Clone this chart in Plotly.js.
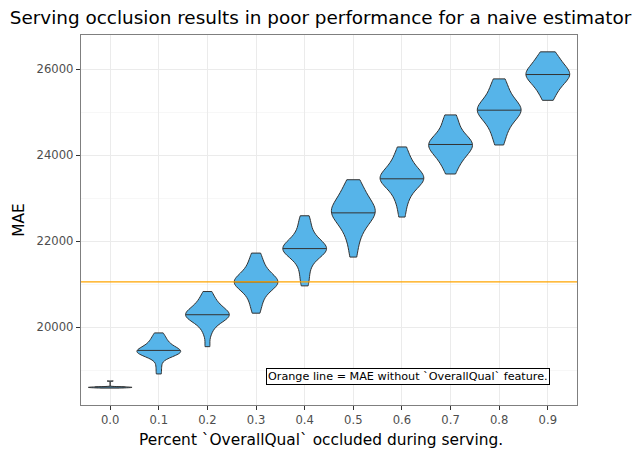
<!DOCTYPE html>
<html>
<head>
<meta charset="utf-8">
<script src="https://cdn.plot.ly/plotly-3.0.1.min.js"></script>
<style>
html,body{margin:0;padding:0;background:#fff;}
#chart{width:641px;height:457px;}
#chart path.mean, #chart path.meanline{stroke-dasharray:none !important;}
</style>
</head>
<body>
<div id="chart"></div>
<script>
// Categories (fraction of OverallQual occluded)
const categories = ['0.0','0.1','0.2','0.3','0.4','0.5','0.6','0.7','0.8','0.9'];

// MAE samples per category
const mae00 = [18590,18595,18598,18601,18604,18606,18608,18610,18612,18615,18618,18622,18756];
const mae01 = [18919,19100,19280,19340,19370,19390,19405,19420,19435,19450,19465,19480,19500,19530,19570,19620,19660,19720,19790,19872];
const mae02 = [19553,19840,19990,20090,20150,20190,20220,20245,20270,20290,20310,20335,20365,20400,20440,20490,20550,20620,20710,20833];
const mae03 = [20330,20502,20642,20752,20842,20922,20967,21002,21027,21042,21057,21082,21117,21162,21222,21282,21362,21462,21592,21726];
const mae04 = [20965,21169,21359,21519,21619,21689,21739,21779,21804,21819,21834,21859,21899,21949,22009,22079,22169,22299,22459,22593];
const mae05 = [21633,21920,22130,22270,22370,22470,22550,22610,22650,22670,22690,22730,22780,22840,22910,22990,23080,23180,23300,23430];
const mae06 = [22563,22827,22997,23117,23217,23297,23357,23402,23432,23447,23467,23497,23537,23587,23647,23717,23797,23897,24027,24191];
const mae07 = [23563,23740,23860,23960,24020,24090,24150,24200,24235,24260,24285,24320,24370,24440,24540,24680,24820,24935];
const mae08 = [24237,24431,24581,24701,24801,24881,24951,25001,25036,25051,25066,25101,25151,25221,25301,25401,25521,25651,25772];
const mae09 = [25274,25429,25539,25629,25704,25769,25819,25859,25879,25899,25939,25989,26054,26129,26219,26309,26400];

// MAE of the model trained without the OverallQual feature
const maeWithoutFeature = 21058;

const yTickValues = [20000, 22000, 24000, 26000];

const groups = [mae00, mae01, mae02, mae03, mae04, mae05, mae06, mae07, mae08, mae09];

const font = 'DejaVu Sans, sans-serif';

const traces = groups.map((g, i) => ({
  type: 'violin',
  x: g.map(() => categories[i]),
  y: g,
  width: 0.9,
  scalemode: 'width',
  spanmode: 'hard',
  points: false,
  box: {visible: false},
  meanline: {visible: true, color: '#333333', width: 1},
  line: {color: '#333333', width: 1},
  fillcolor: '#56B4E9',
  opacity: 1,
  showlegend: false,
  hoverinfo: 'y'
}));

const layout = {
  width: 641, height: 457,
  margin: {l: 81, r: 64, t: 35, b: 52},
  paper_bgcolor: '#ffffff',
  plot_bgcolor: '#ffffff',
  font: {family: font, color: '#000000'},
  title: {text: 'Serving occlusion results in poor performance for a naive estimator',
          font: {family: font, size: 18.4, color: '#000000'},
          x: 0.5, xanchor: 'center', y: 0.962, yanchor: 'middle'},
  violinmode: 'overlay',
  xaxis: {
    type: 'category',
    categoryorder: 'array', categoryarray: categories,
    range: [-0.6, 9.6],
    showgrid: true, gridcolor: '#ebebeb', gridwidth: 1,
    showline: true, mirror: true, linecolor: '#7f7f7f', linewidth: 1.2,
    ticks: 'outside', ticklen: 4, tickcolor: '#333333', tickwidth: 1,
    tickfont: {family: font, size: 11.6, color: '#4d4d4d'},
    title: {text: ''},
    zeroline: false
  },
  yaxis: {
    range: [18198, 26791],
    tickvals: yTickValues,
    tickformat: 'd',
    showgrid: true, gridcolor: '#ebebeb', gridwidth: 1,
    minor: {dtick: 1000, tick0: 0, showgrid: true, gridcolor: '#f2f2f2', gridwidth: 0.6, ticks: ''},
    showline: true, mirror: true, linecolor: '#7f7f7f', linewidth: 1.2,
    ticks: 'outside', ticklen: 4, tickcolor: '#333333', tickwidth: 1,
    tickfont: {family: font, size: 11.6, color: '#4d4d4d'},
    title: {text: 'MAE', font: {family: font, size: 15.4, color: '#000000'}, standoff: 8},
    zeroline: false
  },
  shapes: [{
    type: 'line', xref: 'paper', x0: 0, x1: 1, yref: 'y', y0: maeWithoutFeature, y1: maeWithoutFeature,
    line: {color: '#FFA500', width: 1.2}, layer: 'above'
  }],
  annotations: [{
    xref: 'x', yref: 'y', x: 6.12, y: 18850,
    text: 'Orange line = MAE without `OverallQual` feature.',
    showarrow: false,
    font: {family: font, size: 11.2, color: '#000000'},
    bgcolor: '#ffffff', bordercolor: '#000000', borderwidth: 1, borderpad: 1
  }, {
    xref: 'paper', yref: 'paper', x: 0.483, y: -0.0946, xanchor: 'center', yanchor: 'middle',
    text: 'Percent `OverallQual` occluded during serving.',
    showarrow: false,
    font: {family: font, size: 15.4, color: '#000000'}
  }]
};

Plotly.newPlot('chart', traces, layout, {displayModeBar: false, staticPlot: true});
</script>
</body>
</html>
